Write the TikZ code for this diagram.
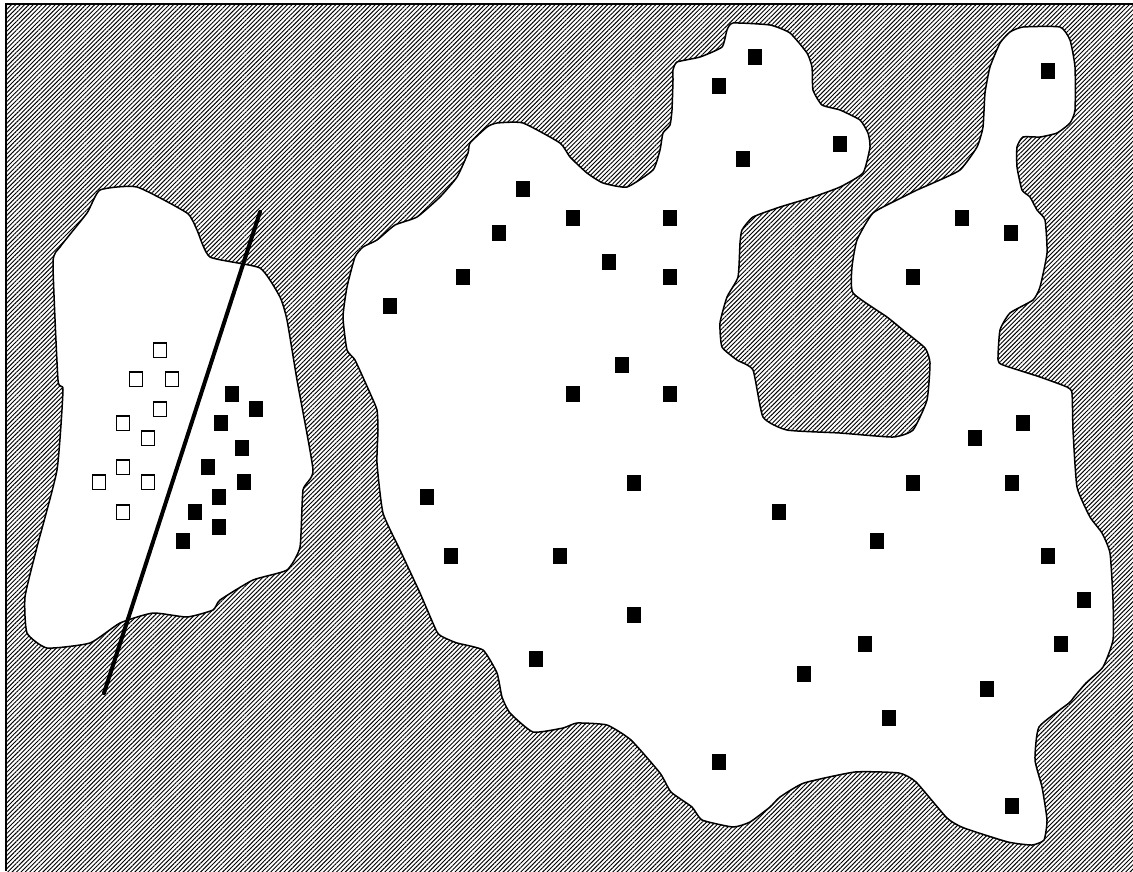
\documentclass[tikz,border=0pt]{standalone}
\usetikzlibrary{patterns.meta}

\begin{document}
\begin{tikzpicture}[
  x=1pt, y=-1pt,
  hatch/.style={pattern={Lines[angle=45,distance=3.1pt,line width=0.95pt]}},
  region/.style={draw=black, fill=white, line width=1.5pt},
  possample/.style={draw=none, fill=black, rectangle, minimum width=14pt,
              minimum height=16pt, inner sep=0pt},
  negsample/.style={draw=black, fill=white, line width=1.5pt, rectangle,
              minimum width=13pt, minimum height=14.5pt, inner sep=0pt},
  cut/.style={line width=4pt, line cap=round}
]

% ===== Rahmen =====
\useasboundingbox (0,0) rectangle (1133,871);
\fill[hatch] (6,4) rectangle (1133,871);
\draw[line width=1.4pt] (1133,4) -- (6,4) -- (6,871);

% ===== kleine Region (links) =====
\draw[region] plot[smooth cycle, tension=0.3] coordinates {
  (100,190) (137,187) (187,213) (197,230) (210,257) (260,268) (280,297)
  (287,320) (297,380) (313,470) (303,490) (300,547) (287,570) (253,580)
  (220,600) (213,610) (187,617) (153,613) (120,623) (90,643) (47,648)
  (27,633) (25,597) (37,547) (57,470) (63,390) (58,380) (53,263)
  (60,247) (87,213)};

% ===== grosse Region (rechts) =====
\draw[region] plot[smooth cycle, tension=0.3] coordinates {
  (377,410) (370,393) (355,360) (347,350) (343,317) (347,287) (355,257)
  (363,247) (377,240) (395,225) (417,217) (440,197) (457,177) (468,153)
  (470,143) (487,127) (497,123) (523,123) (560,143) (570,157) (587,173)
  (603,183) (627,187) (653,170) (660,150) (663,133) (670,125) (672,110)
  (673,80) (673,70) (677,62) (700,57) (722,47) (727,30) (733,23)
  (770,25) (790,33) (807,53) (812,67) (813,90) (822,105) (840,110)
  (860,120) (868,133) (870,147) (863,173) (840,187) (813,197) (780,207)
  (753,217) (742,230) (740,243) (738,277) (727,297) (720,323) (722,347)
  (737,360) (753,370) (763,417) (787,430) (840,433) (893,437) (913,430)
  (927,400) (930,363) (925,348) (903,330) (887,317) (853,293) (852,267)
  (857,240) (873,213) (903,197) (917,190) (933,183) (960,170) (977,147)
  (983,127) (985,93) (990,67) (1000,43) (1010,32) (1023,27) (1060,27)
  (1070,40) (1075,67) (1075,110) (1070,123) (1057,133) (1040,137)
  (1023,137) (1017,147) (1017,167) (1022,190) (1030,197) (1037,210)
  (1045,220) (1047,253) (1040,287) (1033,300) (1010,313) (1000,330)
  (998,360) (1003,365) (1040,377) (1067,387) (1072,393) (1073,430)
  (1077,487) (1090,517) (1102,533) (1110,553) (1113,600) (1113,640)
  (1103,667) (1086,683) (1074,697) (1069,703) (1039,727) (1035,760)
  (1042,787) (1047,820) (1044,840) (1032,845) (1008,842) (964,828)
  (947,818) (916,782) (899,773) (855,772) (804,783) (780,797) (770,807)
  (750,822) (733,827) (702,820) (692,807) (671,792) (660,773) (631,740)
  (607,725) (577,723) (563,728) (533,732) (510,713) (502,697) (497,673)
  (483,650) (457,643) (445,638) (437,632) (420,593) (400,550) (383,513)
  (377,463) (378,430)};

% ===== Trennlinie =====
\coordinate (cutTop) at (260,212);
\coordinate (cutBot) at (104,693);
\draw[cut] (cutTop) -- (cutBot);

% ===== negative Beispiele =====
\foreach \x/\y [count=\i] in {160/350, 136/379, 172/379, 160/409, 123/423,
    148/438, 123/467, 99/482, 148/482, 123/512}
  \node[negsample] (n\i) at (\x,\y) {};

% ===== positive Beispiele (links) =====
\foreach \x/\y [count=\i] in {232/394, 256/409, 221/423, 242/448, 208/467,
    244/482, 219/497, 195/512, 219/527, 183/541}
  \node[possample] (a\i) at (\x,\y) {};

% ===== positive Beispiele (rechts) =====
\foreach \x/\y [count=\i] in {755/57, 719/86, 1048/71, 743/159, 840/144,
    523/189, 573/218, 670/218, 962/218, 1011/233, 499/233, 609/262,
    670/277, 463/277, 913/277, 390/306, 622/365, 573/394, 670/394,
    1023/423, 975/438, 634/483, 913/483, 1012/483, 427/497, 779/512,
    877/541, 451/556, 560/556, 1048/556, 1084/600, 634/615, 865/644,
    1061/644, 536/659, 804/674, 987/689, 889/718, 719/762, 1012/806}
  \node[possample] (b\i) at (\x,\y) {};

\end{tikzpicture}
\end{document}
